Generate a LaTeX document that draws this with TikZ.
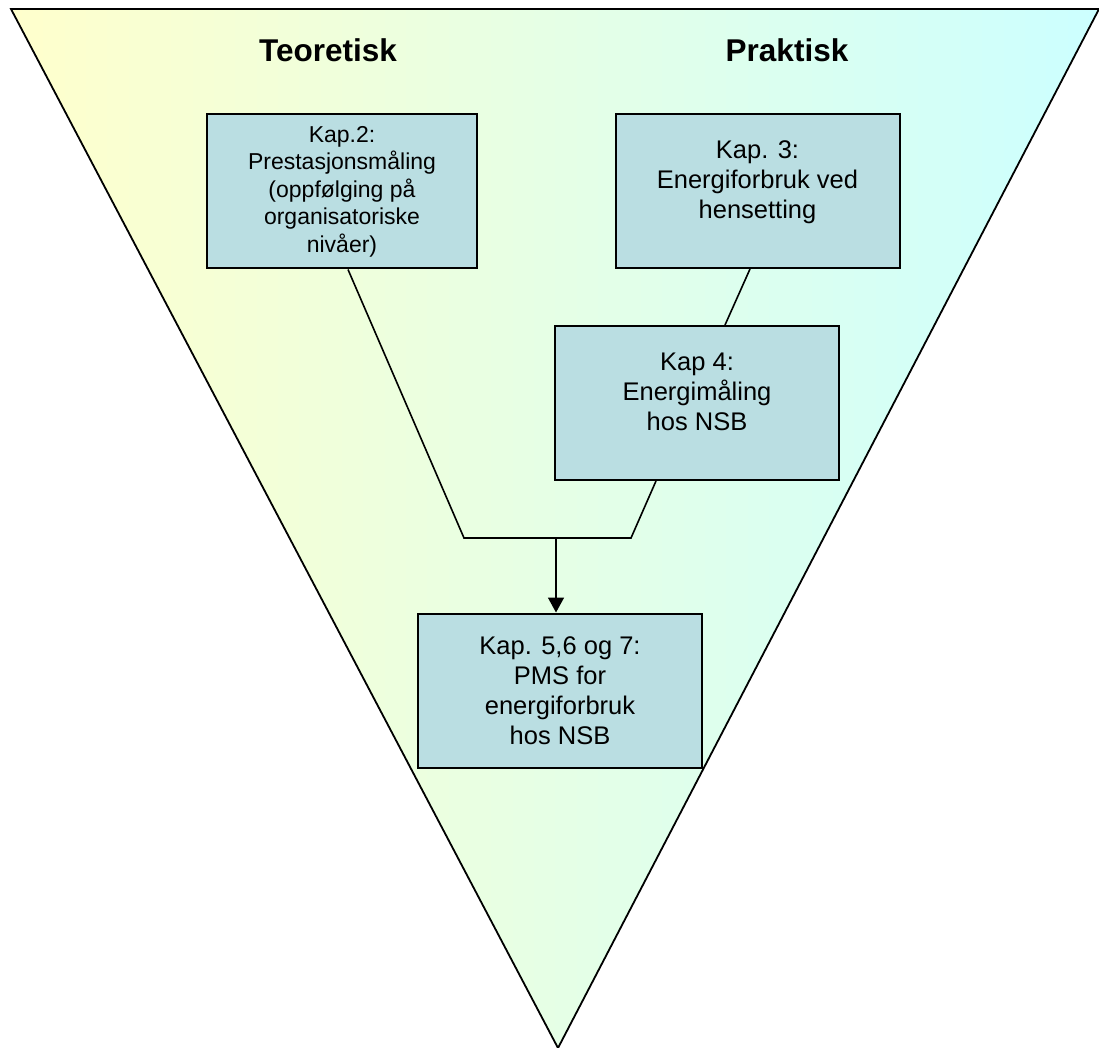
\documentclass[tikz,border=0pt]{standalone}
\usepackage{fontspec}
\setmainfont{Liberation Sans}
\usetikzlibrary{arrows.meta}
\definecolor{kapfill}{RGB}{186,222,226}
\definecolor{lyellow}{RGB}{255,255,204}
\definecolor{lgreen}{RGB}{229,255,229}
\definecolor{lcyan}{RGB}{204,255,255}
\tikzset{kap/.style={draw=black,line width=2pt,fill=kapfill,minimum width=284pt,minimum height=154pt,align=center,inner sep=0pt,font=\fontsize{25.5}{30}\selectfont}, kapsmall/.style={kap,minimum width=270pt,font=\fontsize{23}{27.5}\selectfont}, head/.style={anchor=base,font=\fontsize{31.5}{36}\selectfont\bfseries}, link/.style={draw=black,line width=1.6pt}}

\begin{document}
\begin{tikzpicture}[x=1pt,y=-1pt]
\useasboundingbox (0,0) rectangle (1099,1048);
% the funnel
\shade[left color=lyellow,middle color=lgreen,right color=lcyan] (11,9) -- (1099,9) -- (558,1048) -- cycle;
\draw[line width=1.8pt] (11,9) -- (1099,9) -- (558,1048) -- cycle;
\node[head] (teo) at (328,62) {Teoretisk};
\node[head] (prak) at (787,62) {Praktisk};
% chapters
\node[kapsmall] (k2) at (342,191.5) {Kap.2:\\Prestasjonsmåling\\(oppfølging på\\organisatoriske\\nivåer)};
\node[kap] (k3) at (757.5,191) {Kap. 3:\\Energiforbruk ved\\hensetting\\[-8pt]\mbox{}};
\node[kap] (k4) at (697,403) {Kap 4:\\Energimåling\\hos NSB\\[-8pt]\mbox{}};
\node[kap] (k5) at (560,690.5) {Kap. 5,6 og 7:\\PMS for\\energiforbruk\\hos NSB};
\coordinate (jl) at (464,538);
\coordinate (jr) at (631,538);
\coordinate (jm) at (556,538);
\draw[link] ([xshift=6pt]k2.south) -- (jl) -- (jr) -- ([xshift=-41pt]k4.south);
\draw[link] ([xshift=-7.5pt]k3.south) -- ([xshift=28pt]k4.north);
\draw[link,-{Triangle[length=15pt,width=16pt]}] (jm) -- ([xshift=-4pt]k5.north);
\end{tikzpicture}
\end{document}
